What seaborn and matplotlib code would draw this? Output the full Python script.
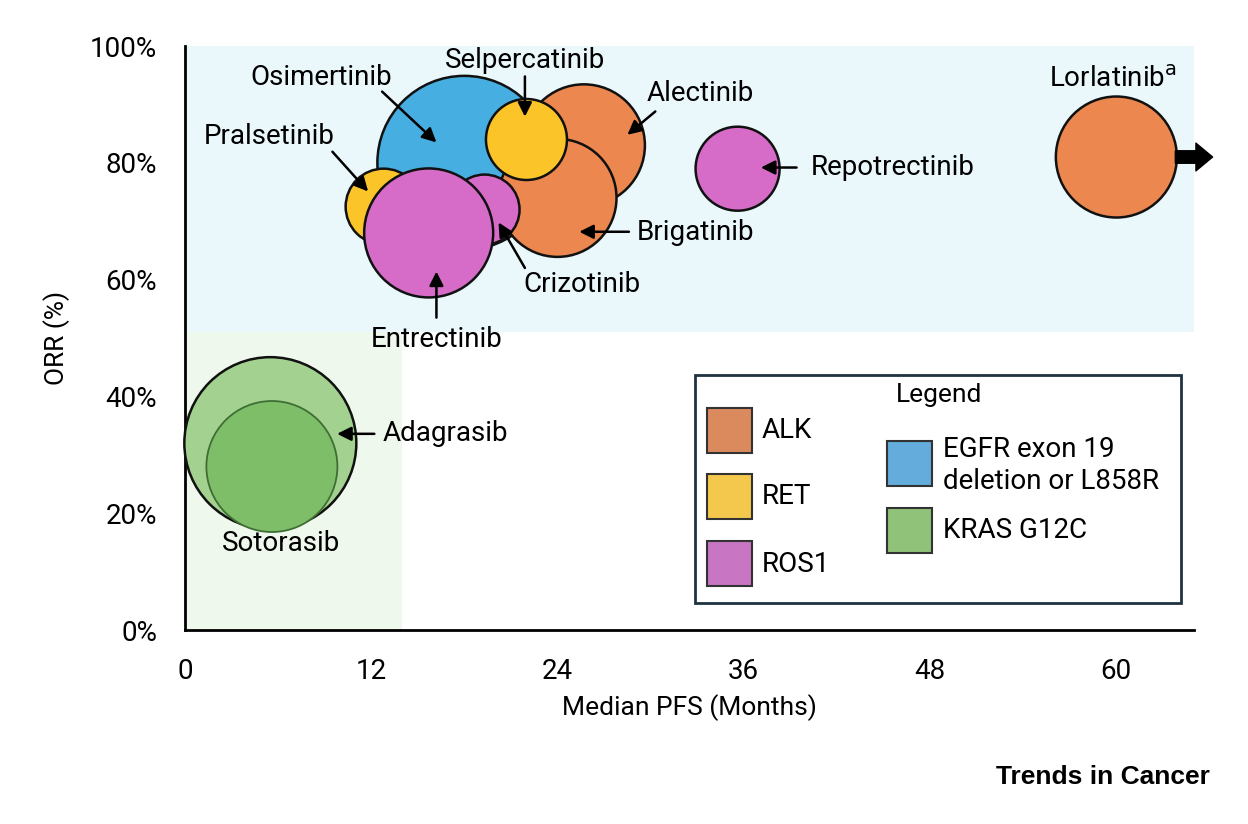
import numpy as np
import pandas as pd
import seaborn as sns
import matplotlib.pyplot as plt
from matplotlib.patches import Rectangle

# drugs in drawing order (later ones sit on top)
drugs = ['Osimertinib', 'Alectinib', 'Brigatinib', 'Selpercatinib', 'Pralsetinib',
         'Crizotinib', 'Entrectinib', 'Repotrectinib', 'Lorlatinib', 'Adagrasib', 'Sotorasib']
targets = ['EGFR', 'ALK', 'ALK', 'RET', 'RET', 'ROS1', 'ROS1', 'ROS1', 'ALK', 'KRAS', 'KRAS']
median_pfs = [18.0, 25.7, 24.0, 22.0, 12.8, 19.3, 15.7, 35.6, 60.0, 5.5, 5.6]
orr = [80, 83, 74, 84, 72.5, 72, 68, 79, 81, 32, 28]
bubble_px = [174, 122, 118, 81, 76, 70, 129, 84, 121, 172, 131]

target_colors = {'ALK': '#EB874F', 'RET': '#FBC52A', 'ROS1': '#D66CC8',
                 'EGFR': '#46AEE0', 'KRAS': '#A3D18F'}
sotorasib_color = '#7FBE69'

legend_labels = ['ALK', 'RET', 'ROS1', 'EGFR exon 19\ndeletion or L858R', 'KRAS G12C']
legend_colors = ['#DB8A5E', '#F3C84D', '#C875C4', '#63ACDC', '#91C27A']

x_ticks = [0, 12, 24, 36, 48, 60]
y_ticks = [0, 20, 40, 60, 80, 100]

# label text positions and arrows (start -> tip), in data units
labels = {
    'Osimertinib': (8.8, 94.6), 'Selpercatinib': (21.9, 97.5), 'Alectinib': (33.2, 91.9),
    'Pralsetinib': (5.4, 84.5), 'Crizotinib': (25.6, 59.1), 'Entrectinib': (16.2, 49.8),
    'Brigatinib': (32.9, 68.0), 'Repotrectinib': (45.6, 79.2), 'Lorlatinib$^{\\mathrm{a}}$': (59.8, 94.3),
    'Adagrasib': (16.8, 33.6), 'Sotorasib': (6.2, 14.9),
}
arrows = [
    ((12.7, 92.2), (16.2, 83.5)), ((21.9, 94.8), (21.9, 87.9)), ((30.3, 88.8), (28.5, 84.8)),
    ((9.5, 81.9), (11.8, 75.1)), ((21.9, 62.0), (20.2, 69.8)), ((16.2, 53.5), (16.2, 61.4)),
    ((28.6, 68.2), (25.4, 68.2)), ((39.4, 79.2), (37.1, 79.2)), ((12.2, 33.6), (9.8, 33.6)),
]

df = pd.DataFrame({'drug': drugs, 'target': targets, 'pfs': median_pfs, 'orr': orr})
df['area'] = (np.array(bubble_px) * 0.72) ** 2
fills = {d: target_colors[t] for d, t in zip(drugs, targets)}
fills['Sotorasib'] = sotorasib_color
edges = ['#111111'] * (len(drugs) - 1) + ['#3F6E35']
widths = [1.8] * (len(drugs) - 1) + [1.3]

sns.set_style('white')
plt.rcParams['font.family'] = ['Roboto', 'DejaVu Sans']
for key in ['text.color', 'axes.labelcolor', 'xtick.color', 'ytick.color']:
    plt.rcParams[key] = 'black'

fig = plt.figure(figsize=(12.48, 8.24), dpi=100)
ax = fig.add_axes([0.1482, 0.2354, 0.8085, 0.7087])

# shaded regions
ax.add_patch(Rectangle((0, 51), 65, 49, color='#EAF8FC', zorder=0, lw=0))
ax.add_patch(Rectangle((0, 0), 14, 51, color='#EFF8EC', zorder=0, lw=0))

amin, amax = df['area'].min(), df['area'].max()
sns.scatterplot(data=df, x='pfs', y='orr', hue='drug', palette=fills, size='area',
                sizes=(amin, amax), size_norm=(amin, amax), edgecolor=edges,
                linewidth=widths, legend=False, ax=ax, zorder=3, clip_on=False)

for name, (tx, ty) in labels.items():
    ax.text(tx, ty, name, ha='center', va='center', fontsize=20, zorder=5)
for start, tip in arrows:
    ax.annotate('', xy=tip, xytext=start, zorder=5,
                arrowprops=dict(arrowstyle='-|>', color='black', lw=1.8,
                                mutation_scale=21, shrinkA=0, shrinkB=0))
# Lorlatinib PFS not reached
ax.annotate('', xy=(66.2, 81), xytext=(63.8, 81), annotation_clip=False, zorder=5,
            arrowprops=dict(arrowstyle='simple,head_length=0.6,head_width=1.0,tail_width=0.45',
                            color='black', mutation_scale=20, shrinkA=0, shrinkB=0))

ax.set_xlim(0, 65)
ax.set_ylim(0, 100)
ax.set_xticks(x_ticks)
ax.set_yticks(y_ticks)
ax.set_yticklabels([f'{v}%' for v in y_ticks])
ax.tick_params(length=0, labelsize=20)
ax.tick_params(axis='x', pad=20)
ax.tick_params(axis='y', pad=20)
ax.set_xlabel('Median PFS (Months)', fontsize=19, labelpad=7)
ax.set_ylabel('ORR (%)', fontsize=19, labelpad=14)
for side in ['top', 'right']:
    ax.spines[side].set_visible(False)
for side in ['left', 'bottom']:
    ax.spines[side].set_color('black')
    ax.spines[side].set_linewidth(2)

# legend box drawn by hand to keep the two-column layout
T = ax.transAxes
ax.add_patch(Rectangle((0.5055, 0.046), 0.4815, 0.391, transform=T, fill=True,
                       facecolor='white', edgecolor='#1E3240', lw=2, zorder=6))
ax.text(0.747, 0.402, 'Legend', transform=T, ha='center', va='center', fontsize=19, zorder=7)
swatch_xy = [(0.517, 0.303), (0.517, 0.190), (0.517, 0.0753), (0.696, 0.2466), (0.696, 0.132)]
text_xy = [(0.572, 0.341), (0.572, 0.228), (0.572, 0.113), (0.751, 0.2817), (0.751, 0.171)]
for lab, col, (sx, sy), (lx, ly) in zip(legend_labels, legend_colors, swatch_xy, text_xy):
    ax.add_patch(Rectangle((sx, sy), 0.0446, 0.077, transform=T, facecolor=col,
                           edgecolor='#333333', lw=1.5, zorder=7))
    ax.text(lx, ly, lab, transform=T, ha='left', va='center', fontsize=20,
            linespacing=1.25, zorder=7)

fig.text(0.9696, 0.057, 'Trends in Cancer', ha='right', va='center', fontsize=19,
         fontweight='bold', family='Liberation Sans')

fig.savefig('out.png', dpi=100)
